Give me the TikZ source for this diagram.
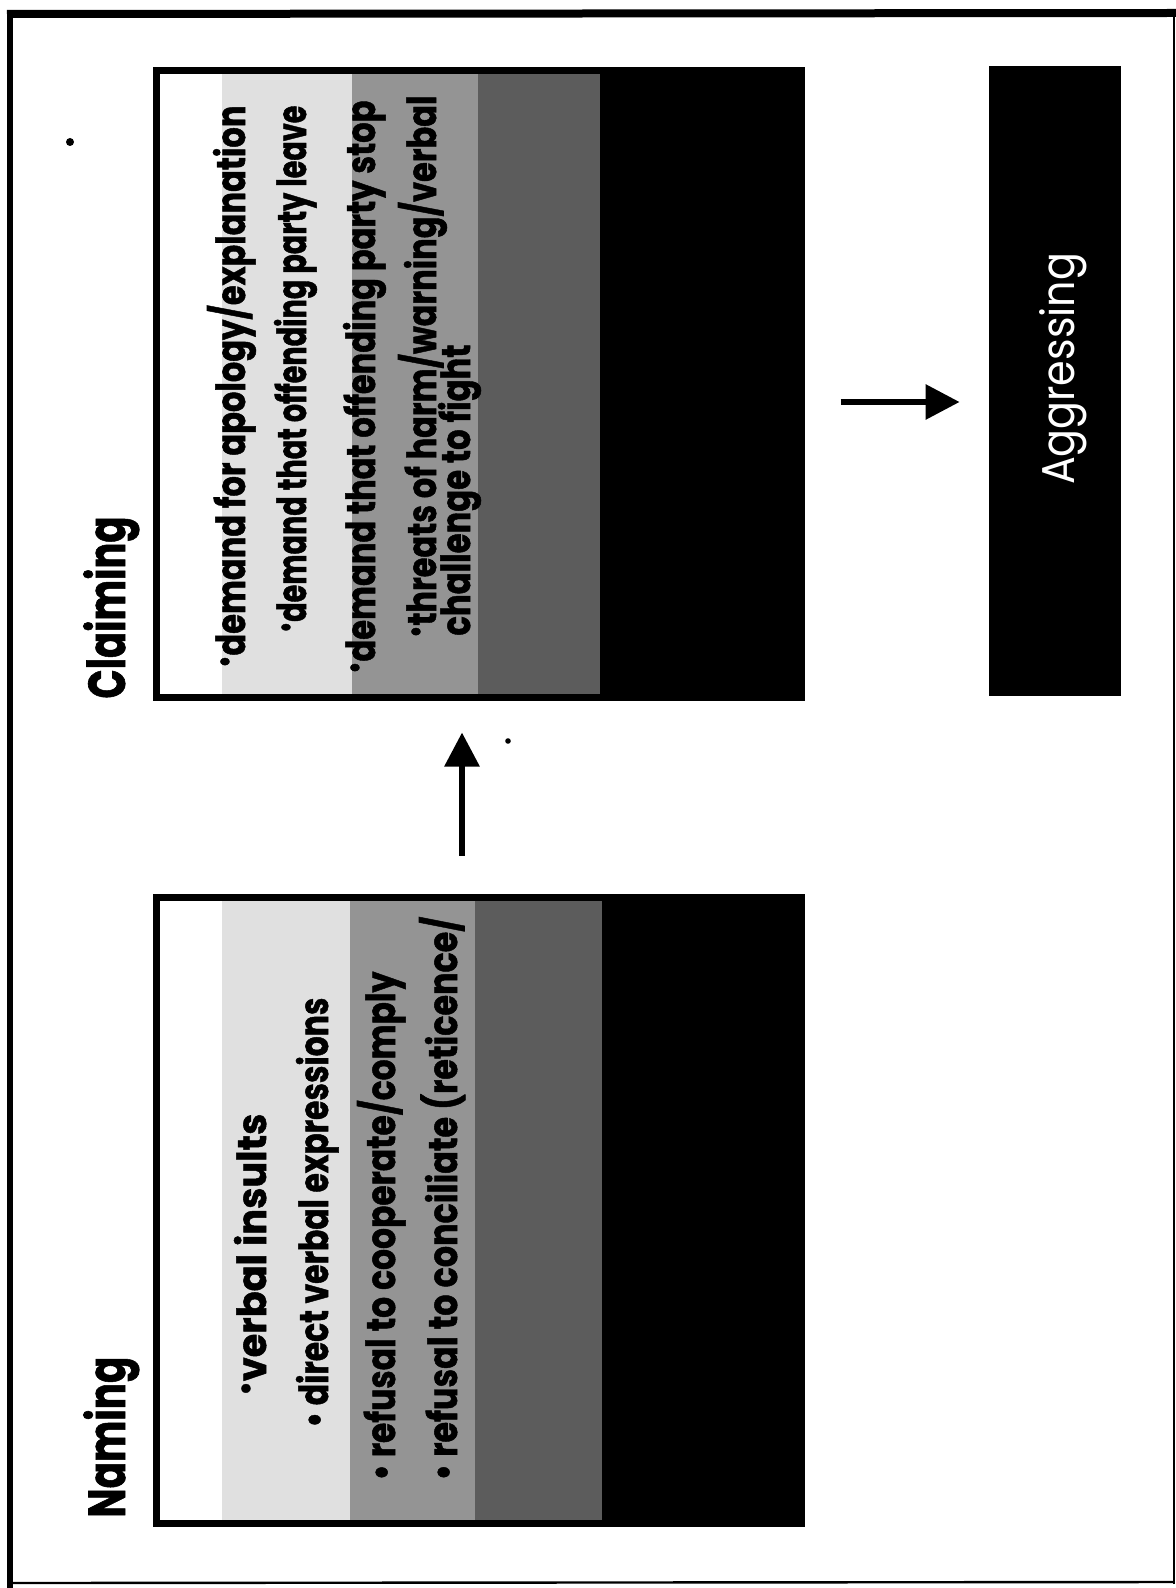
\documentclass[tikz,border=0pt]{standalone}
\usepackage{fontspec}
\setmainfont{Poppins}[BoldFeatures={FakeBold=1.3}]
\usetikzlibrary{arrows.meta}
\newcommand{\fitw}[2]{\resizebox{#1}{\height}{#2}}
\newcommand{\rbul}{\raisebox{0.45ex}{\scalebox{0.75}{\textbullet}}}
\tikzset{
  framebox/.style={draw=black, line width=3.5pt, minimum width=322.5pt, minimum height=313pt, inner sep=0pt},
  blackbox/.style={fill=black, minimum width=66pt, minimum height=315pt, inner sep=0pt},
  txt/.style={rotate=90, inner sep=0pt, anchor=base west, text=black, font=\bfseries\fontsize{20}{22}\selectfont},
  ttl/.style={rotate=90, inner sep=0pt, anchor=base west, text=black, font=\bfseries\fontsize{26}{28}\selectfont},
  agtxt/.style={rotate=90, inner sep=0pt, anchor=base, text=white, font=\fontsize{23}{26}\selectfont},
  arr/.style={line width=3pt, -{Triangle[length=17pt,width=17pt]}},
  bandA/.style={fill=black!12},
  bandB/.style={fill=black!42},
  bandC/.style={fill=black!64},
  bandD/.style={fill=black},
}
\begin{document}
\begin{tikzpicture}[x=0.5pt,y=-0.5pt]
\useasboundingbox (0,0) rectangle (1176,1588);
\fill[white] (0,0) rectangle (1176,1588);
% outer frame
\draw[line width=3pt] (10,1588) -- (10,14);
\draw[line width=4pt] (7,14) -- (1176,13);
\draw[line width=1pt] (1174,13) -- (1174,1584);
\draw[line width=1.2pt] (10,1583) -- (1174,1582);
% gradient bands - Naming
\fill[bandA] (222,897) rectangle (350,1523);
\fill[bandB] (350,897) rectangle (475,1523);
\fill[bandC] (475,897) rectangle (602,1523);
\fill[bandD] (602,897) rectangle (801,1523);
% gradient bands - Claiming
\fill[bandA] (222,71) rectangle (352,697);
\fill[bandB] (352,71) rectangle (478,697);
\fill[bandC] (478,71) rectangle (600,697);
\fill[bandD] (600,71) rectangle (801,697);
% boxes
\node[framebox] (naming) at (478.5,1210) {};
\node[framebox] (claiming) at (478.5,384) {};
\node[blackbox] (aggr) at (1055,381) {};
% titles
\node[ttl] (tnaming) at (125,1518) {\fitw{80.5pt}{Naming}};
\node[ttl] (tclaiming) at (125,699) {\fitw{91pt}{Claiming}};
% Naming lines
\node[txt] (n1) at (266,1396) {\fitw{141pt}{\rbul verbal insults}};
\node[txt] (n2) at (328,1428) {\fitw{215pt}{\textbullet\ direct verbal expressions}};
\node[txt] (n3) at (395,1481) {\fitw{254.5pt}{\textbullet\ refusal to cooperate/comply}};
\node[txt] (n4) at (457,1481) {\fitw{282pt}{\textbullet\ refusal to conciliate (reticence/}};
% Claiming lines
\node[txt] (c1) at (245,668) {\fitw{281pt}{\rbul demand for apology/explanation}};
\node[txt] (c2) at (306,633) {\fitw{263.5pt}{\rbul demand that offending party leave}};
\node[txt] (c3) at (375,674) {\fitw{286.5pt}{\rbul demand that offending party stop}};
\node[txt] (c4) at (436,638) {\fitw{271pt}{\rbul threats of harm/warning/verbal}};
\node[txt] (c5) at (470,636) {\fitw{145.5pt}{challenge to fight}};
% Aggressing text
\node[agtxt] (taggr) at (1074,369) {\fitw{116pt}{Aggressing}};
% arrows
\coordinate (upx) at (462,0);
\coordinate (rty) at (0,402);
\draw[arr, shorten <=19pt, shorten >=16pt] (naming.north -| upx) -- (claiming.south -| upx);
\draw[arr, shorten <=18pt, shorten >=14.5pt] (claiming.east |- rty) -- (aggr.west |- rty);
% specks
\fill (70,142) circle (2pt);
\fill (508,741) circle (1.4pt);
\end{tikzpicture}
\end{document}
